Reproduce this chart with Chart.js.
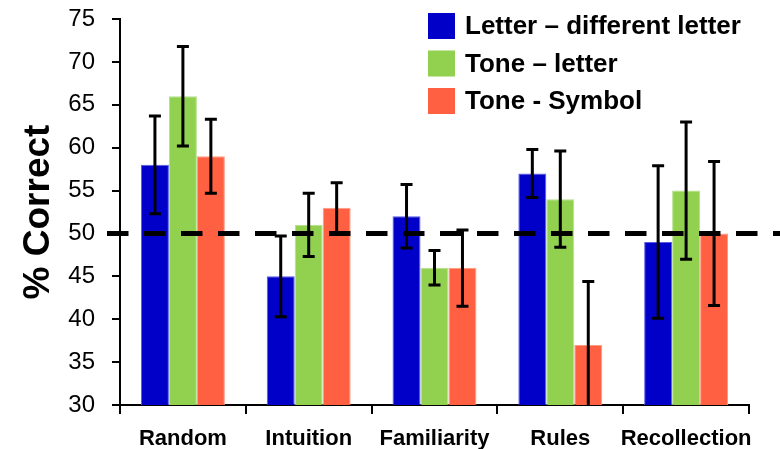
<!DOCTYPE html>
<html>
<head>
<meta charset="utf-8">
<script src="https://cdn.jsdelivr.net/npm/chart.js@4.4.1/dist/chart.umd.min.js"></script>
<style>
    html, body { margin: 0; padding: 0; background: #ffffff; }
    #wrap { width: 780px; height: 449px; }
</style>
</head>
<body>
<div id="wrap"><canvas id="myChart"></canvas></div>
<script>
// data
var categorias = ['Random', 'Intuition', 'Familiarity', 'Rules', 'Recollection'];
var series = ['Letter \u2013 different letter', 'Tone \u2013 letter', 'Tone - Symbol'];

var letraLetra = [58, 45, 52, 57, 49];
var tonoLetra = [66, 51, 46, 54, 55];
var tonoSimbolo = [59, 53, 46, 37, 50];

// error bars (low, high)
var errLetraLetra = [[52.3, 63.7], [40.3, 49.7], [48.3, 55.7], [54.2, 59.8], [40.1, 57.9]];
var errTonoLetra = [[60.2, 71.8], [47.3, 54.7], [44, 48], [48.4, 59.6], [47, 63]];
var errTonoSimbolo = [[54.7, 63.3], [50.1, 55.9], [41.5, 50.4], [29.6, 44.4], [41.6, 58.4]];

var chanceLevel = 50;
var yTicks = [30, 35, 40, 45, 50, 55, 60, 65, 70, 75];

var colores = ['#0000c8', '#92d050', '#ff6042'];
var bordes = ['#5a5ae6', '#b4e08a', '#ff9a82'];
var FUENTE = 'Liberation Sans, Arial, Helvetica, sans-serif';

// error bars + dashed chance line
var pluginErrores = {
    id: 'errores',
    afterDatasetsDraw: function (chart) {
        var ctx = chart.ctx;
        var y = chart.scales.y;
        var area = chart.chartArea;
        var errores = [errLetraLetra, errTonoLetra, errTonoSimbolo];

        // dashed line at 50 %
        var y50 = y.getPixelForValue(chanceLevel);
        ctx.save();
        ctx.strokeStyle = '#000000';
        ctx.lineWidth = 5;
        ctx.setLineDash([21.5, 15.5]);
        ctx.beginPath();
        ctx.moveTo(area.left - 13, y50);
        ctx.lineTo(chart.width, y50);
        ctx.stroke();
        ctx.restore();

        ctx.save();
        ctx.beginPath();
        ctx.rect(area.left, 0, area.right - area.left, area.bottom);
        ctx.clip();
        ctx.strokeStyle = '#000000';
        ctx.lineWidth = 3;
        errores.forEach(function (lista, d) {
            var meta = chart.getDatasetMeta(d);
            lista.forEach(function (par, i) {
                var x = meta.data[i].x;
                var yLo = y.getPixelForValue(par[0]);
                var yHi = y.getPixelForValue(par[1]);
                ctx.beginPath();
                ctx.moveTo(x, yLo);
                ctx.lineTo(x, yHi);
                ctx.moveTo(x - 6, yLo);
                ctx.lineTo(x + 6, yLo);
                ctx.moveTo(x - 6, yHi);
                ctx.lineTo(x + 6, yHi);
                ctx.stroke();
            });
        });
        ctx.restore();
    }
};

// legend in the top right corner
var pluginLeyenda = {
    id: 'leyenda',
    afterDraw: function (chart) {
        var ctx = chart.ctx;
        ctx.save();
        ctx.font = 'bold 26px ' + FUENTE;
        ctx.textBaseline = 'middle';
        ctx.textAlign = 'left';
        series.forEach(function (nombre, i) {
            var cy = 26 + i * 37.5;
            ctx.fillStyle = colores[i];
            ctx.fillRect(428, cy - 13, 27, 26);
            ctx.fillStyle = '#000000';
            ctx.fillText(nombre, 465, cy + 1);
        });
        ctx.restore();
    }
};

var ctx = document.getElementById('myChart').getContext('2d');
new Chart(ctx, {
    type: 'bar',
    data: {
        labels: categorias,
        datasets: [{
                label: series[0],
                data: letraLetra,
                backgroundColor: colores[0],
                borderColor: bordes[0],
                borderWidth: 1
            },
            {
                label: series[1],
                data: tonoLetra,
                backgroundColor: colores[1],
                borderColor: bordes[1],
                borderWidth: 1
            },
            {
                label: series[2],
                data: tonoSimbolo,
                backgroundColor: colores[2],
                borderColor: bordes[2],
                borderWidth: 1
            }
        ]
    },
    options: {
        responsive: true,
        maintainAspectRatio: false,
        animation: false,
        devicePixelRatio: 1,
        categoryPercentage: 0.667,
        barPercentage: 1,
        layout: {
            padding: {left: 17, right: 31, top: 19, bottom: 0}
        },
        plugins: {
            legend: {display: false},
            tooltip: {enabled: false}
        },
        scales: {
            x: {
                afterFit: function (axis) {
                    axis.height = 44;
                },
                grid: {
                    display: true,
                    offset: true,
                    drawOnChartArea: false,
                    drawTicks: true,
                    tickLength: 9,
                    color: '#000000',
                    lineWidth: 2
                },
                border: {display: true, color: '#000000', width: 2},
                ticks: {
                    color: '#000000',
                    font: {family: FUENTE, size: 22, weight: 'bold'},
                    padding: 12,
                    maxRotation: 0,
                    autoSkip: false
                }
            },
            y: {
                min: 30,
                max: 75,
                afterFit: function (axis) {
                    axis.width = 103;
                    axis.paddingTop = 0;
                    axis.paddingBottom = 0;
                },
                afterBuildTicks: function (axis) {
                    axis.ticks = yTicks.map(function (v) {
                        return {value: v};
                    });
                },
                grid: {
                    display: true,
                    drawOnChartArea: false,
                    drawTicks: true,
                    tickLength: 8,
                    color: '#000000',
                    lineWidth: 2
                },
                border: {display: true, color: '#000000', width: 2},
                ticks: {
                    color: '#000000',
                    font: {family: FUENTE, size: 24},
                    padding: 17
                },
                title: {
                    display: true,
                    text: '% Correct',
                    color: '#000000',
                    font: {family: FUENTE, size: 37, weight: 'bold'},
                    padding: {top: 0, bottom: 0}
                }
            }
        }
    },
    plugins: [pluginErrores, pluginLeyenda]
});
</script>
</body>
</html>
